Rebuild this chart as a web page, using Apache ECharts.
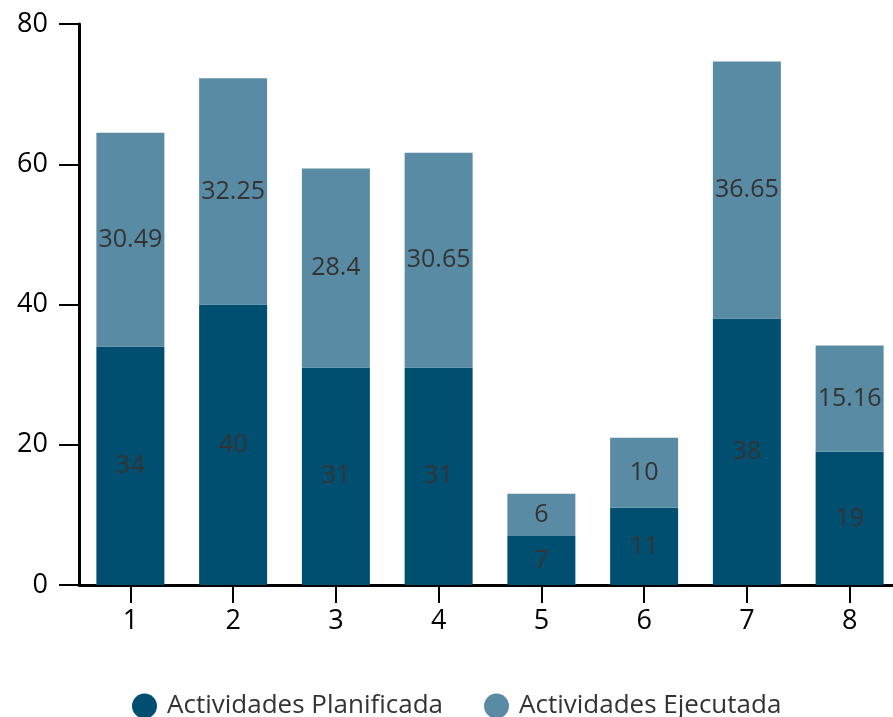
<!DOCTYPE html>
<html>
<head>
<meta charset="utf-8">
<script src="https://cdn.jsdelivr.net/npm/echarts@6/dist/echarts.min.js"></script>
<style>
html,body{margin:0;padding:0;background:#fff;}
#main{width:893px;height:717px;}
</style>
</head>
<body>
<div id="main"></div>
<script>
const categories = ['1','2','3','4','5','6','7','8'];
const planificada = [34, 40, 31, 31, 7, 11, 38, 19];
const ejecutada = [30.49, 32.25, 28.4, 30.65, 6, 10, 36.65, 15.16];
const yTicks = [0, 20, 40, 60, 80];
const seriesNames = ['Actividades Planificada', 'Actividades Ejecutada'];

const FONT = "'Open Sans', 'Noto Sans', sans-serif";
const chart = echarts.init(document.getElementById('main'), null, {renderer: 'canvas'});
const labelStyle = {
  show: true,
  position: 'inside',
  color: '#333333',
  fontSize: 25,
  fontFamily: FONT,
  formatter: p => String(p.value)
};
chart.setOption({
  animation: false,
  textStyle: {fontFamily: FONT},
  color: ['#004f71', '#5a8ba4'],
  legend: {
    top: 688,
    left: 127,
    icon: 'circle',
    itemWidth: 25,
    itemHeight: 25,
    itemGap: 41,
    textStyle: {fontSize: 26, color: '#333333', fontFamily: FONT, padding: [0, 0, 0, 5]},
    data: seriesNames
  },
  grid: {left: 79, width: 822, top: 24, bottom: 132, containLabel: false, outerBoundsMode: 'none'},
  xAxis: {
    type: 'category',
    data: categories,
    axisLine: {show: true, lineStyle: {color: '#000', width: 3}},
    axisTick: {show: true, alignWithLabel: true, length: 18, lineStyle: {color: '#000', width: 2}},
    axisLabel: {color: '#000', fontSize: 27, margin: 23, fontFamily: FONT}
  },
  yAxis: {
    type: 'value',
    min: yTicks[0],
    max: yTicks[yTicks.length - 1],
    interval: 20,
    splitLine: {show: false},
    axisLine: {show: true, lineStyle: {color: '#000', width: 3}},
    axisTick: {show: true, length: 20, lineStyle: {color: '#000', width: 2}},
    axisLabel: {color: '#000', fontSize: 27, margin: 31, fontFamily: FONT}
  },
  series: [
    {name: seriesNames[0], type: 'bar', stack: 'a', barWidth: 68, data: planificada, label: labelStyle},
    {name: seriesNames[1], type: 'bar', stack: 'a', barWidth: 68, data: ejecutada, label: labelStyle}
  ]
});
</script>
</body>
</html>
